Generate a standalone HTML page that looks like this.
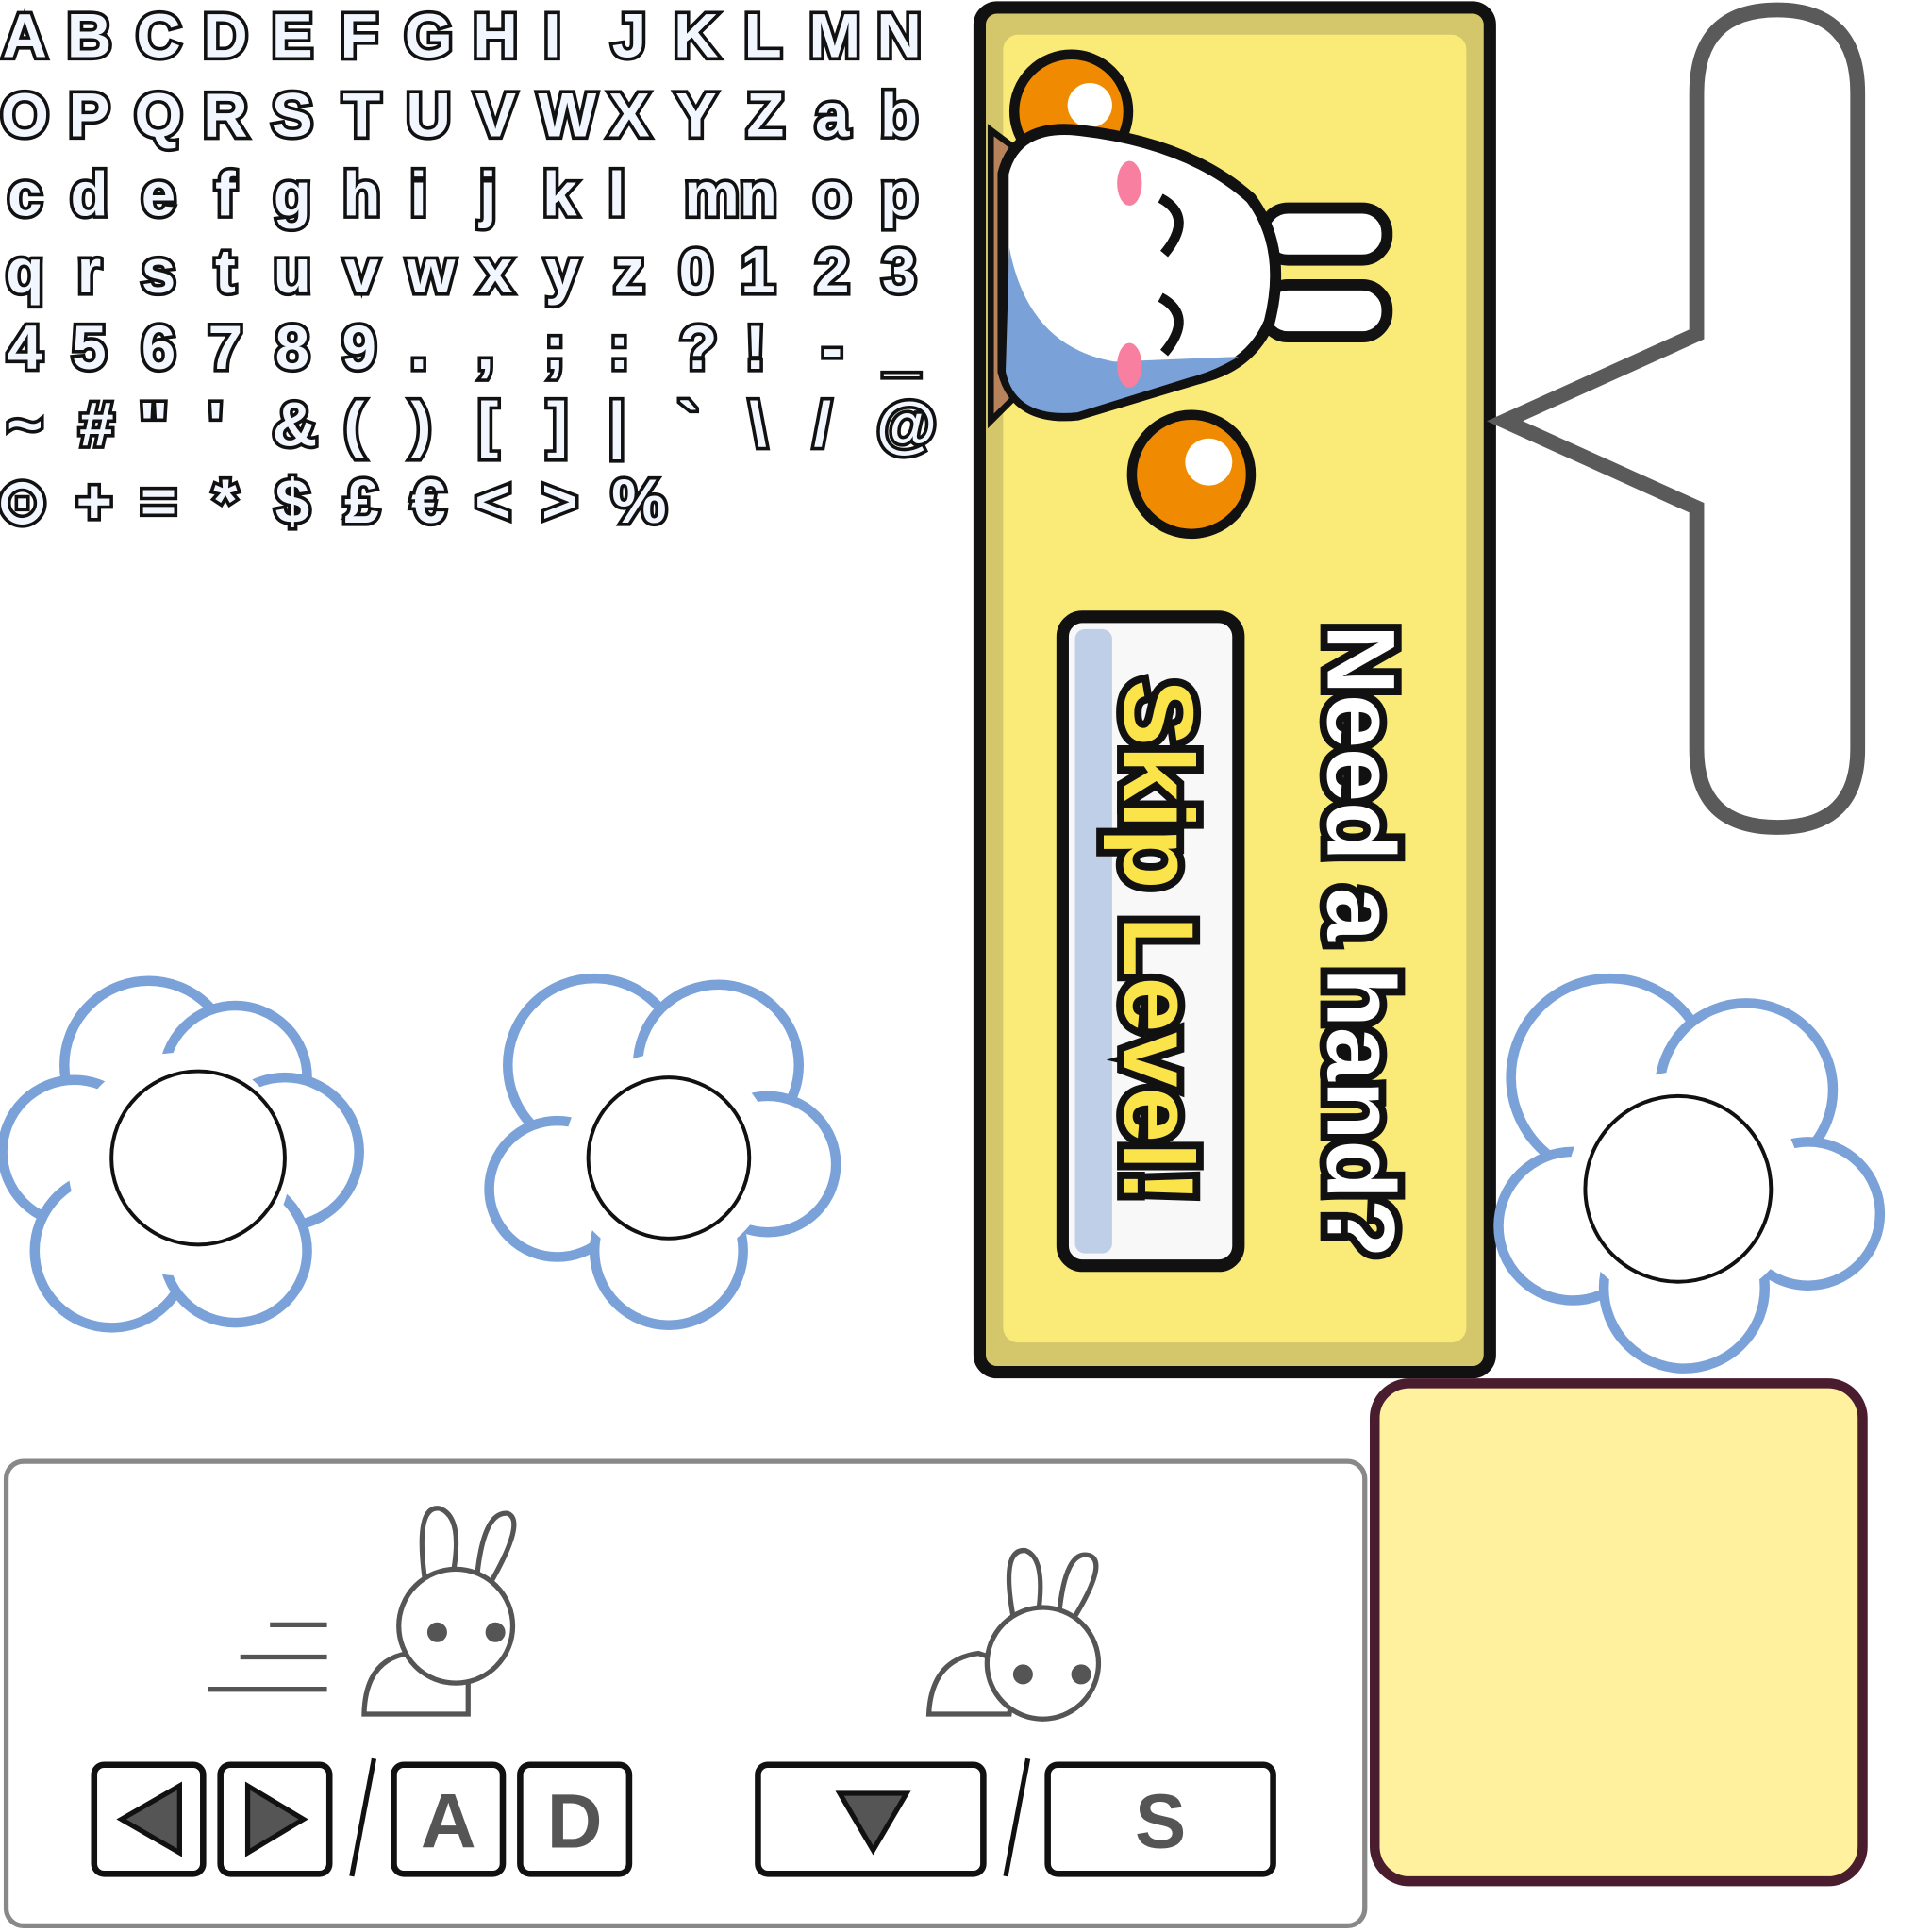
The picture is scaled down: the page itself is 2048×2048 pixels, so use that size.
<!DOCTYPE html>
<html><head><meta charset="utf-8"><style>
html,body{margin:0;padding:0;background:#fff;}
svg{display:block}
.g{font-family:"Liberation Sans",sans-serif;font-weight:bold;font-size:50px;fill:#f2f6ff;stroke:#111;stroke-width:5.5;paint-order:stroke;text-anchor:middle}
</style></head><body>
<svg width="2048" height="2048" viewBox="0 0 1560 1560" xmlns="http://www.w3.org/2000/svg">
<g id="glyphs"></g>

<g>
 <rect x="791" y="6" width="412" height="1102" rx="14" fill="#d4c66b" stroke="#111" stroke-width="10"/>
 <rect x="810" y="28" width="374" height="1056" rx="12" fill="#faeb78"/>
 <g>
  <circle cx="865" cy="90" r="46" fill="#f08a00" stroke="#111" stroke-width="8"/>
  <circle cx="880" cy="85" r="18" fill="#fff"/>
  <path d="M800 105 L820 120 L820 320 L800 340 Z" fill="#b8835a" stroke="#111" stroke-width="5"/>
  <rect x="1020" y="168" width="100" height="42" rx="20" fill="#fff" stroke="#111" stroke-width="9"/>
  <rect x="1020" y="230" width="100" height="42" rx="20" fill="#fff" stroke="#111" stroke-width="9"/>
  <path d="M810 140 Q820 100 870 105 Q960 115 1010 160 Q1040 200 1025 260 Q1010 295 970 305 L870 335 Q820 340 810 300 Z" fill="#fff" stroke="#111" stroke-width="9"/>
  <path d="M815 200 Q830 280 900 292 L1000 288 Q980 300 960 305 L870 333 Q820 338 812 300 Z" fill="#7aa2d8"/>
  <ellipse cx="912" cy="148" rx="10" ry="18" fill="#f87fa0"/>
  <ellipse cx="912" cy="295" rx="10" ry="18" fill="#f87fa0"/>
  <path d="M937 160 Q965 175 940 205" fill="none" stroke="#111" stroke-width="8"/>
  <path d="M937 240 Q965 255 940 285" fill="none" stroke="#111" stroke-width="8"/>
  <circle cx="962" cy="383" r="48" fill="#f08a00" stroke="#111" stroke-width="8"/>
  <circle cx="976" cy="373" r="19" fill="#fff"/>
 </g>
 <g>
  <rect x="858" y="498" width="142" height="524" rx="16" fill="#f8f8f8" stroke="#111" stroke-width="10"/>
  <rect x="868" y="508" width="30" height="504" rx="8" fill="#c0cfe8"/>
  <text transform="translate(908,760) rotate(90)" text-anchor="middle" font-family="Liberation Sans,sans-serif" font-weight="bold" font-size="80" fill="#fbe34a" stroke="#111" stroke-width="12" paint-order="stroke">Skip Level!</text>
 </g>
 <text transform="translate(1072,760) rotate(90)" text-anchor="middle" font-family="Liberation Sans,sans-serif" font-weight="bold" font-size="78" fill="#fff" stroke="#111" stroke-width="12" paint-order="stroke">Need a hand?</text>
</g>

<path d="M1435 8 Q1500 8 1500 75 L1500 605 Q1500 668 1435 668 Q1370 668 1370 605 L1370 410 L1215 340 L1370 270 L1370 75 Q1370 8 1435 8 Z" fill="#fff" stroke="#5a5a5a" stroke-width="12"/>

<g fill="#fff">
 <circle cx="120" cy="860" r="68" stroke="#7aa2d8" stroke-width="8"/><circle cx="190" cy="870" r="58" stroke="#7aa2d8" stroke-width="8"/>
 <circle cx="60" cy="930" r="58" stroke="#7aa2d8" stroke-width="8"/><circle cx="230" cy="930" r="60" stroke="#7aa2d8" stroke-width="8"/>
 <circle cx="90" cy="1010" r="62" stroke="#7aa2d8" stroke-width="8"/><circle cx="190" cy="1010" r="58" stroke="#7aa2d8" stroke-width="8"/>
 <circle cx="145" cy="940" r="90"/>
 <circle cx="160" cy="935" r="70" stroke="#111" stroke-width="3"/>
</g>
<g fill="#fff">
 <circle cx="480" cy="860" r="70" stroke="#7aa2d8" stroke-width="8"/><circle cx="580" cy="860" r="65" stroke="#7aa2d8" stroke-width="8"/>
 <circle cx="450" cy="960" r="55" stroke="#7aa2d8" stroke-width="8"/><circle cx="620" cy="940" r="55" stroke="#7aa2d8" stroke-width="8"/>
 <circle cx="540" cy="1010" r="60" stroke="#7aa2d8" stroke-width="8"/>
 <circle cx="540" cy="935" r="85"/>
 <circle cx="540" cy="935" r="65" stroke="#111" stroke-width="3"/>
</g>
<g fill="#fff">
 <circle cx="1300" cy="870" r="80" stroke="#7aa2d8" stroke-width="8"/><circle cx="1410" cy="880" r="70" stroke="#7aa2d8" stroke-width="8"/>
 <circle cx="1270" cy="990" r="60" stroke="#7aa2d8" stroke-width="8"/><circle cx="1460" cy="980" r="58" stroke="#7aa2d8" stroke-width="8"/>
 <circle cx="1360" cy="1040" r="65" stroke="#7aa2d8" stroke-width="8"/>
 <circle cx="1360" cy="960" r="95"/>
 <circle cx="1355" cy="960" r="75" stroke="#111" stroke-width="3"/>
</g>

<g>
 <rect x="5" y="1180" width="1097" height="375" rx="14" fill="#fff" stroke="#888" stroke-width="4"/>
 <g stroke="#555" fill="none" stroke-width="4">
  <line x1="218" y1="1312" x2="264" y2="1312"/><line x1="194" y1="1338" x2="264" y2="1338"/><line x1="168" y1="1364" x2="264" y2="1364"/>
  <path d="M294 1384 Q295 1340 330 1335 L378 1340 L378 1384 Z" fill="#fff"/>
  <path d="M343 1275 Q335 1215 355 1218 Q375 1225 365 1275 M385 1275 Q390 1220 410 1222 Q425 1228 395 1280" fill="#fff"/>
  <circle cx="368" cy="1313" r="46" fill="#fff"/>
  <circle cx="353" cy="1318" r="6" fill="#555"/><circle cx="400" cy="1318" r="6" fill="#555"/>
 </g>
 <g stroke="#555" fill="none" stroke-width="4">
  <path d="M750 1384 Q752 1340 790 1335 L820 1345 L815 1384 Z" fill="#fff"/>
  <path d="M818 1305 Q808 1250 828 1252 Q845 1258 838 1305 M855 1305 Q860 1250 880 1256 Q895 1262 865 1310" fill="#fff"/>
  <circle cx="842" cy="1343" r="45" fill="#fff"/>
  <circle cx="826" cy="1352" r="6" fill="#555"/><circle cx="873" cy="1352" r="6" fill="#555"/>
 </g>
 <g stroke="#111" stroke-width="5" fill="#fff">
  <rect x="76" y="1425" width="88" height="88" rx="8"/>
  <rect x="178" y="1425" width="88" height="88" rx="8"/>
  <rect x="318" y="1425" width="88" height="88" rx="8"/>
  <rect x="420" y="1425" width="88" height="88" rx="8"/>
  <rect x="612" y="1425" width="182" height="88" rx="8"/>
  <rect x="846" y="1425" width="182" height="88" rx="8"/>
 </g>
 <g fill="#555" stroke="#111" stroke-width="4">
  <polygon points="98,1469 145,1442 145,1496"/>
  <polygon points="245,1469 200,1442 200,1496"/>
  <polygon points="678,1448 732,1448 705,1494"/>
 </g>
 <g stroke="#111" stroke-width="4"><line x1="302" y1="1420" x2="284" y2="1515"/><line x1="830" y1="1420" x2="812" y2="1515"/></g>
 <g font-family="Liberation Sans,sans-serif" font-weight="bold" font-size="62" fill="#555" text-anchor="middle">
  <text x="362" y="1492">A</text><text x="464" y="1492">D</text><text x="937" y="1492">S</text>
 </g>
</g>

<rect x="1110" y="1117" width="394" height="402" rx="28" fill="#fff19e" stroke="#4a1d2e" stroke-width="8"/>
</svg>
<script>
const rows=[
 [["A",20],["B",72],["C",128],["D",182],["E",236],["F",290],["G",346],["H",400],["I",446],["J",508],["K",562],["L",616],["M",674],["N",726]],
 [["O",20],["P",72],["Q",128],["R",182],["S",236],["T",292],["U",346],["V",400],["W",458],["X",508],["Y",562],["Z",618],["a",672],["b",726]],
 [["c",20],["d",72],["e",128],["f",182],["g",236],["h",292],["i",338],["j",394],["k",452],["l",498],["mn",590],["o",672],["p",726]],
 [["q",20],["r",72],["s",128],["t",182],["u",236],["v",292],["w",348],["x",400],["y",454],["z",508],["0",562],["1",612],["2",672],["3",726]],
 [["4",20],["5",72],["6",128],["7",182],["8",236],["9",290],[".",338],[",",392],[";",448],[":",500],["?",564],["!",610],["-",672],["_",728]],
 [["~",20],["#",78],["\"",124],["'",174],["&",238],["(",286],[")",340],["[",394],["]",450],["|",498],["`",556],["\\",612],["/",664],["@",732]],
 [["⊙",18],["+",76],["=",128],["*",182],["$",236],["£",292],["€",346],["<",398],[">",452],["%",516]]
];
const ys=[46,110,174,236,298,360,422];
const g=document.getElementById('glyphs');
rows.forEach((r,i)=>r.forEach(([c,x])=>{
 const t=document.createElementNS('http://www.w3.org/2000/svg','text');
 
 
 t.setAttribute('class','g');t.setAttribute('x',x);t.setAttribute('y',ys[i]);
 t.textContent=c;g.appendChild(t);
}));
</script>
</body></html>
